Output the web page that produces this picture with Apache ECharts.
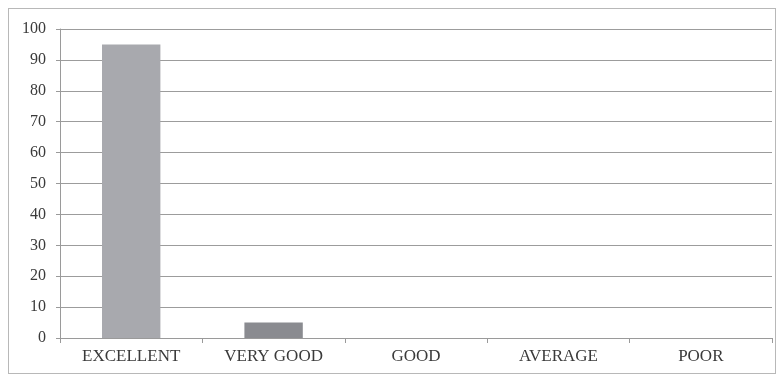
<!DOCTYPE html>
<html>
<head>
<meta charset="utf-8">
<script src="https://cdn.jsdelivr.net/npm/echarts@6/dist/echarts.min.js"></script>
<style>
  html, body { margin: 0; padding: 0; background: #fff; }
  #frame {
    position: absolute; left: 8px; top: 8px; width: 768px; height: 366px;
    border: 1px solid #b8b8b8; box-sizing: border-box;
  }
  #chart { position: absolute; left: 0; top: 0; width: 779px; height: 377px; }
</style>
</head>
<body>
<div id="frame"></div>
<div id="chart"></div>
<script>
const categories = ['EXCELLENT', 'VERY GOOD', 'GOOD', 'AVERAGE', 'POOR']
const ratings = [95, 5, 0, 0, 0]
const barColors = ['#a8a9ae', '#8a8b90', '#8a8b90', '#8a8b90', '#8a8b90']

const myChart = echarts.init(document.getElementById('chart'))
const option = {
  animation: false,
  textStyle: { fontFamily: 'Liberation Serif, serif' },
  grid: { left: 60, right: 7, top: 29, bottom: 39 },
  xAxis: {
    type: 'category',
    data: categories,
    axisLine: { lineStyle: { color: '#9a9a9a' } },
    axisTick: { show: true, lineStyle: { color: '#9a9a9a' } },
    axisLabel: { color: '#3a3a3a', fontSize: 17, margin: 10, fontFamily: 'Liberation Serif' }
  },
  yAxis: {
    type: 'value',
    min: 0,
    max: 100,
    interval: 10,
    axisLine: { show: true, lineStyle: { color: '#9a9a9a' } },
    axisTick: { show: true, length: 4, lineStyle: { color: '#9a9a9a' } },
    axisLabel: { color: '#3a3a3a', fontSize: 16, margin: 14, fontFamily: 'Liberation Serif' },
    splitLine: { lineStyle: { color: '#9c9c9c' } }
  },
  series: [{
    type: 'bar',
    barWidth: '41%',
    data: ratings.map((v, i) => ({ value: v, itemStyle: { color: barColors[i] } }))
  }]
}
myChart.setOption(option)
</script>
</body>
</html>
